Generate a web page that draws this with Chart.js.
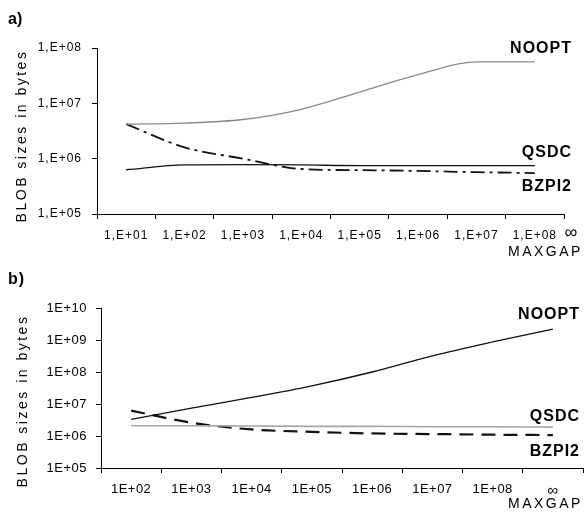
<!DOCTYPE html>
<html>
<head>
<meta charset="utf-8">
<script src="https://cdn.jsdelivr.net/npm/chart.js@4"></script>
<style>
    body { margin: 0; background: #fff; width: 585px; height: 513px; overflow: hidden; position: relative; }
    canvas { position: absolute; left: 0; }
    #chartA { top: 0; }
    #chartB { top: 258px; }
</style>
</head>
<body>
<canvas id="chartA" width="585" height="258"></canvas>
<canvas id="chartB" width="585" height="255"></canvas>
<script>
// ---- data, chart a)
const catsA = ['1,E+01', '1,E+02', '1,E+03', '1,E+04', '1,E+05', '1,E+06', '1,E+07', '1,E+08'];
const nooptA = [4.2e6, 4.4e6, 5.1e6, 7.8e6, 1.6e7, 3.3e7, 5.6e7, 5.6e7];
const qsdcA = [6.3e5, 7.7e5, 7.8e5, 7.7e5, 7.5e5, 7.5e5, 7.5e5, 7.5e5];
const bzpi2A = [4.2e6, 1.6e6, 1.0e6, 6.5e5, 6.2e5, 6.0e5, 5.7e5, 5.5e5];
const yTicksA = [1e5, 1e6, 1e7, 1e8];
const yLabelsA = ['1,E+05', '1,E+06', '1,E+07', '1,E+08'];

// ---- data, chart b)
const catsB = ['1E+02', '1E+03', '1E+04', '1E+05', '1E+06', '1E+07', '1E+08', '∞'];
const nooptB = [3.3e6, 7.4e6, 1.6e7, 3.7e7, 1.0e8, 3.2e8, 8.7e8, 2.2e9];
const qsdcB = [2.1e6, 2.1e6, 2.05e6, 2.0e6, 2.0e6, 1.95e6, 1.95e6, 1.9e6];
const bzpi2B = [6.2e6, 2.6e6, 1.6e6, 1.35e6, 1.2e6, 1.15e6, 1.1e6, 1.07e6];
const yTicksB = [1e5, 1e6, 1e7, 1e8, 1e9, 1e10];
const yLabelsB = ['1E+05', '1E+06', '1E+07', '1E+08', '1E+09', '1E+10'];

const FONT = "'Liberation Sans', Arial, sans-serif";

function notesPlugin(notes, spacing) {
    return {
        id: 'notes',
        beforeDraw(chart) { chart.ctx.letterSpacing = spacing; },
        afterDraw(chart) {
            const ctx = chart.ctx;
            for (const n of notes) {
                ctx.save();
                ctx.font = n.font;
                ctx.fillStyle = '#000';
                ctx.letterSpacing = n.ls || '0px';
                ctx.textAlign = n.align || 'center';
                ctx.textBaseline = 'middle';
                ctx.translate(n.x, n.y);
                if (n.rot) ctx.rotate(n.rot);
                ctx.fillText(n.text, 0, 0);
                ctx.restore();
            }
        }
    };
}

function line(data, color, width, dash) {
    return {
        data: data,
        borderColor: color,
        borderWidth: width,
        borderDash: dash || [],
        pointRadius: 0,
        fill: false,
        cubicInterpolationMode: 'monotone'
    };
}

function makeChart(id, cats, datasets, yTicks, yLabels, opts) {
    new Chart(document.getElementById(id), {
        type: 'line',
        data: { labels: cats, datasets: datasets },
        options: {
            responsive: false,
            animation: false,
            devicePixelRatio: 1,
            layout: { padding: opts.padding },
            plugins: { legend: { display: false }, tooltip: { enabled: false } },
            scales: {
                x: {
                    type: 'category',
                    offset: true,
                    grid: { drawOnChartArea: false, drawTicks: true, tickLength: 5, color: '#000', offset: true },
                    border: { color: '#000', width: 1 },
                    ticks: {
                        color: '#000', padding: 9, maxRotation: 0, autoSkip: false,
                        font: ctx => ({ family: FONT, size: cats[ctx.index] === '∞' ? 15 : opts.tickSize })
                    },
                    afterFit: s => { s.height = opts.xHeight; }
                },
                y: {
                    type: 'logarithmic',
                    min: yTicks[0],
                    max: yTicks[yTicks.length - 1],
                    grid: { drawOnChartArea: false, drawTicks: true, tickLength: 5, color: '#000' },
                    border: { color: '#000', width: 1 },
                    afterBuildTicks: s => { s.ticks = yTicks.map(v => ({ value: v })); },
                    ticks: {
                        color: '#000', padding: opts.yPad,
                        font: { family: FONT, size: opts.tickSize },
                        callback: (v, i) => yLabels[i]
                    },
                    afterFit: s => { s.width = opts.yWidth; }
                }
            }
        },
        plugins: [notesPlugin(opts.notes, opts.spacing)]
    });
}

const bold16 = 'bold 16px ' + FONT;
const title14 = '14px ' + FONT;

makeChart('chartA', catsA, [
    line(nooptA, '#8a8a8a', 1.3),
    line(qsdcA, '#111', 1.3),
    line(bzpi2A, '#111', 1.8, [14, 5, 3, 5])
], yTicksA, yLabelsA, {
    padding: { left: 0, right: 21, top: 48, bottom: 0 },
    xHeight: 44, yWidth: 97, yPad: 10, tickSize: 12, spacing: '1px',
    notes: [
        { text: 'a)', x: 8, y: 20, font: bold16, align: 'left' },
        { text: 'NOOPT', x: 572, y: 49, font: bold16, align: 'right', ls: '1px' },
        { text: 'QSDC', x: 572, y: 153, font: bold16, align: 'right', ls: '1px' },
        { text: 'BZPI2', x: 572, y: 187, font: bold16, align: 'right', ls: '1px' },
        { text: '∞', x: 571, y: 233, font: '18px ' + FONT },
        { text: 'MAXGAP', x: 508, y: 252, font: title14, align: 'left', ls: '2.5px' },
        { text: 'BLOB sizes in bytes', x: 22, y: 136, font: title14, rot: -Math.PI / 2, ls: '2.5px' }
    ]
});

makeChart('chartB', catsB, [
    line(nooptB, '#111', 1.3),
    line(qsdcB, '#a6a6a6', 1.6),
    line(bzpi2B, '#111', 2.2, [14, 8])
], yTicksB, yLabelsB, {
    padding: { left: 0, right: 2, top: 50, bottom: 0 },
    xHeight: 45, yWidth: 101, yPad: 9, tickSize: 13, spacing: '0.5px',
    notes: [
        { text: 'b)', x: 8, y: 22, font: bold16, align: 'left', ls: '1px' },
        { text: 'NOOPT', x: 580, y: 57, font: bold16, align: 'right', ls: '1px' },
        { text: 'QSDC', x: 580, y: 159, font: bold16, align: 'right', ls: '1px' },
        { text: 'BZPI2', x: 580, y: 194, font: bold16, align: 'right', ls: '1px' },
        { text: 'MAXGAP', x: 508, y: 246, font: title14, align: 'left', ls: '2.5px' },
        { text: 'BLOB sizes in bytes', x: 23, y: 143, font: title14, rot: -Math.PI / 2, ls: '2.5px' }
    ]
});
</script>
</body>
</html>
